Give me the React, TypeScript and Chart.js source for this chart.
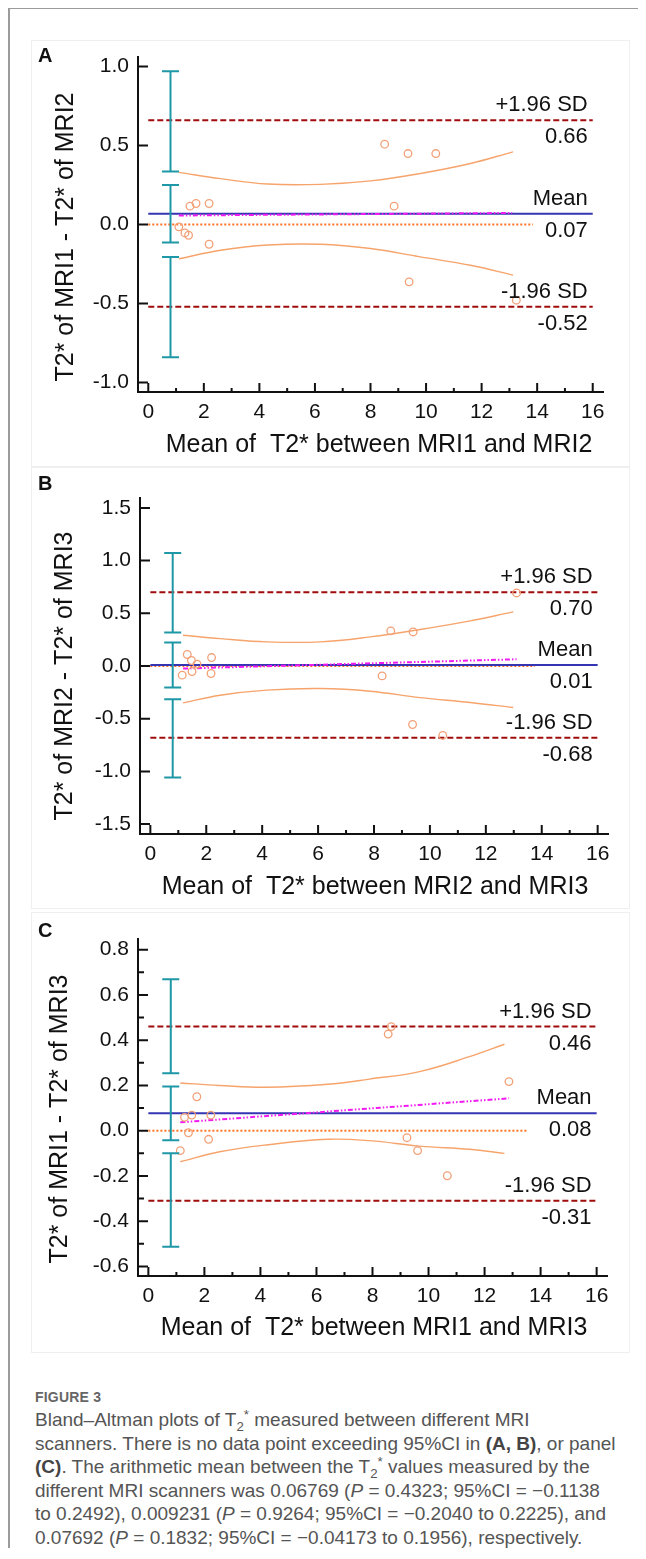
import React, { useEffect, useRef } from "react";
import { Chart, registerables } from "chart.js";

Chart.register(...registerables);

const FONT = "'Liberation Sans', Arial, Helvetica, sans-serif";

// ---------- shared axis data ----------
const X_TICKS = [0, 2, 4, 6, 8, 10, 12, 14, 16];
const X_MINOR_TICKS = [1, 3, 5, 7, 9, 11, 13, 15];
const LIMIT_LINE_X = [0, 16];
const CI_BAR_X = 0.8;
const LABEL_X = 15.82;
const LINE_LABELS = ["+1.96 SD", "Mean", "-1.96 SD"];

// ---------- Panel A : MRI1 vs MRI2 ----------
const A_Y_TICKS = [-1.0, -0.5, 0.0, 0.5, 1.0];
const A_Y_MINOR: number[] = [];
const A_POINT_X = [1.5, 1.72, 2.19, 1.1, 1.32, 1.45, 2.19, 8.51, 9.35, 10.35, 8.85, 9.39, 13.25];
const A_POINT_Y = [0.116, 0.133, 0.133, -0.015, -0.053, -0.068, -0.125, 0.508, 0.449, 0.449, 0.116, -0.363, -0.479];
const A_BAND_X = [1.1, 2.6, 4.3, 6.2, 8.0, 9.8, 11.6, 13.13];
const A_BAND_UPPER = [0.33, 0.29, 0.256, 0.254, 0.276, 0.323, 0.386, 0.46];
const A_BAND_LOWER = [-0.217, -0.163, -0.13, -0.125, -0.152, -0.205, -0.258, -0.32];
const A_TREND_X = [1.1, 13.1];
const A_TREND_Y = [0.057, 0.073];
const A_ZERO_X = [0, 13.85];
const A_LIMITS = [0.66, 0.0677, -0.52];
const A_LIMIT_TEXT = ["0.66", "0.07", "-0.52"];
const A_CI_LOW = [0.335, -0.1138, -0.84];
const A_CI_HIGH = [0.97, 0.2492, -0.205];

// ---------- Panel B : MRI2 vs MRI3 ----------
const B_Y_TICKS = [-1.5, -1.0, -0.5, 0.0, 0.5, 1.0, 1.5];
const B_Y_MINOR: number[] = [];
const B_POINT_X = [1.32, 1.47, 1.67, 1.14, 1.49, 2.19, 2.17, 13.1, 8.6, 9.4, 8.29, 9.38, 10.46];
const B_POINT_Y = [0.109, 0.052, 0.017, -0.087, -0.052, 0.08, -0.071, 0.693, 0.333, 0.323, -0.094, -0.555, -0.659];
const B_BAND_X = [1.17, 2.5, 4.17, 6.08, 7.86, 9.65, 11.44, 12.98];
const B_BAND_UPPER = [0.292, 0.26, 0.229, 0.229, 0.276, 0.346, 0.428, 0.513];
const B_BAND_LOWER = [-0.35, -0.277, -0.229, -0.214, -0.239, -0.3, -0.346, -0.394];
const B_TREND_X = [1.17, 13.1];
const B_TREND_Y = [-0.024, 0.064];
const B_ZERO_X = [0, 13.76];
const B_LIMITS = [0.7, 0.0092, -0.68];
const B_LIMIT_TEXT = ["0.70", "0.01", "-0.68"];
const B_CI_LOW = [0.317, -0.204, -1.057];
const B_CI_HIGH = [1.072, 0.2225, -0.315];

// ---------- Panel C : MRI1 vs MRI3 ----------
const C_Y_TICKS = [-0.6, -0.4, -0.2, 0.0, 0.2, 0.4, 0.6, 0.8];
const C_Y_MINOR = [-0.5, -0.3, -0.1, 0.1, 0.3, 0.5, 0.7];
const C_POINT_X = [1.73, 1.29, 1.55, 2.23, 1.43, 2.15, 1.14, 8.67, 8.56, 12.87, 9.23, 9.61, 10.67];
const C_POINT_Y = [0.15, 0.059, 0.069, 0.069, -0.009, -0.038, -0.088, 0.46, 0.427, 0.217, -0.031, -0.088, -0.199];
const C_BAND_X = [1.14, 2.54, 4.2, 6.4, 7.89, 9.68, 11.46, 12.71];
const C_BAND_UPPER = [0.211, 0.2, 0.192, 0.205, 0.228, 0.261, 0.327, 0.382];
const C_BAND_LOWER = [-0.137, -0.093, -0.063, -0.038, -0.044, -0.068, -0.082, -0.1];
const C_TREND_X = [1.14, 12.87];
const C_TREND_Y = [0.037, 0.143];
const C_ZERO_X = [0, 13.5];
const C_LIMITS = [0.46, 0.0769, -0.31];
const C_LIMIT_TEXT = ["0.46", "0.08", "-0.31"];
const C_CI_LOW = [0.254, -0.04173, -0.513];
const C_CI_HIGH = [0.669, 0.1956, -0.1];

type Spec = {
  letter: string;
  yTitle: string;
  xTitle: string;
  yTicks: number[];
  yMinor: number[];
  yMin: number;
  yMax: number;
  pointX: number[];
  pointY: number[];
  bandX: number[];
  bandUpper: number[];
  bandLower: number[];
  trendX: number[];
  trendY: number[];
  zeroX: number[];
  limits: number[];
  limitText: string[];
  ciLow: number[];
  ciHigh: number[];
  top: number;
  height: number;
  padTop: number;
  padRight: number;
  yAxisW: number;
  xAxisH: number;
  yTitlePos: [number, number];
  xTitlePos: [number, number];
  letterPos: [number, number];
};

const PANELS: Spec[] = [
  {
    letter: "A", yTitle: "T2* of MRI1 - T2* of MRI2", xTitle: "Mean of  T2* between MRI1 and MRI2",
    yTicks: A_Y_TICKS, yMinor: A_Y_MINOR, yMin: -1.06, yMax: 1.06,
    pointX: A_POINT_X, pointY: A_POINT_Y, bandX: A_BAND_X, bandUpper: A_BAND_UPPER, bandLower: A_BAND_LOWER,
    trendX: A_TREND_X, trendY: A_TREND_Y, zeroX: A_ZERO_X, limits: A_LIMITS, limitText: A_LIMIT_TEXT,
    ciLow: A_CI_LOW, ciHigh: A_CI_HIGH,
    top: 32, height: 430, padTop: 17, padRight: 27, yAxisW: 130, xAxisH: 78,
    yTitlePos: [58, 197], xTitlePos: [371, 405], letterPos: [30, 22],
  },
  {
    letter: "B", yTitle: "T2* of MRI2 - T2* of MRI3", xTitle: "Mean of  T2* between MRI2 and MRI3",
    yTicks: B_Y_TICKS, yMinor: B_Y_MINOR, yMin: -1.594, yMax: 1.594,
    pointX: B_POINT_X, pointY: B_POINT_Y, bandX: B_BAND_X, bandUpper: B_BAND_UPPER, bandLower: B_BAND_LOWER,
    trendX: B_TREND_X, trendY: B_TREND_Y, zeroX: B_ZERO_X, limits: B_LIMITS, limitText: B_LIMIT_TEXT,
    ciLow: B_CI_LOW, ciHigh: B_CI_HIGH,
    top: 462, height: 440, padTop: 28, padRight: 22, yAxisW: 132, xAxisH: 76,
    yTitlePos: [57, 206], xTitlePos: [367, 417], letterPos: [30, 20],
  },
  {
    letter: "C", yTitle: "T2* of MRI1 - T2* of MRI3", xTitle: "Mean of  T2* between MRI1 and MRI3",
    yTicks: C_Y_TICKS, yMinor: C_Y_MINOR, yMin: -0.642, yMax: 0.847,
    pointX: C_POINT_X, pointY: C_POINT_Y, bandX: C_BAND_X, bandUpper: C_BAND_UPPER, bandLower: C_BAND_LOWER,
    trendX: C_TREND_X, trendY: C_TREND_Y, zeroX: C_ZERO_X, limits: C_LIMITS, limitText: C_LIMIT_TEXT,
    ciLow: C_CI_LOW, ciHigh: C_CI_HIGH,
    top: 902, height: 440, padTop: 29, padRight: 23, yAxisW: 130, xAxisH: 74,
    yTitlePos: [52, 209], xTitlePos: [366, 418], letterPos: [30, 27],
  },
];

function Panel({ spec }: { spec: Spec }) {
  const ref = useRef<HTMLCanvasElement>(null);
  useEffect(() => {
    if (!ref.current) return;
    const p = spec;
    const pts = (xs: number[], ys: number[]) => xs.map((x, i) => ({ x, y: ys[i] }));
    const flat = (xs: number[], y: number) => xs.map((x) => ({ x, y }));
    const lineBase = { showLine: true, pointRadius: 0, pointHoverRadius: 0, fill: false };

    const overlay = {
      id: "overlay" + p.letter,
      afterDatasetsDraw(chart: any) {
        const { ctx, scales } = chart;
        const xs = scales.x;
        const ys = scales.y;
        ctx.save();
        ctx.strokeStyle = "#1e97a6";
        ctx.lineWidth = 2;
        const cx = xs.getPixelForValue(CI_BAR_X);
        for (let i = 0; i < p.ciLow.length; i++) {
          const y1 = ys.getPixelForValue(p.ciLow[i]);
          const y2 = ys.getPixelForValue(p.ciHigh[i]);
          ctx.beginPath();
          ctx.moveTo(cx, y1);
          ctx.lineTo(cx, y2);
          ctx.moveTo(cx - 8.5, y1);
          ctx.lineTo(cx + 8.5, y1);
          ctx.moveTo(cx - 8.5, y2);
          ctx.lineTo(cx + 8.5, y2);
          ctx.stroke();
        }
        ctx.restore();
      },
      afterDraw(chart: any) {
        const { ctx, chartArea: ca, scales } = chart;
        const xs = scales.x;
        const ys = scales.y;
        ctx.save();
        ctx.strokeStyle = "#111";
        ctx.lineWidth = 2;
        ctx.beginPath();
        X_TICKS.forEach((v) => {
          const px = xs.getPixelForValue(v);
          ctx.moveTo(px, ca.bottom);
          ctx.lineTo(px, ca.bottom - 9);
        });
        X_MINOR_TICKS.forEach((v) => {
          const px = xs.getPixelForValue(v);
          ctx.moveTo(px, ca.bottom);
          ctx.lineTo(px, ca.bottom - 4);
        });
        p.yTicks.forEach((v) => {
          const py = ys.getPixelForValue(v);
          ctx.moveTo(ca.left, py);
          ctx.lineTo(ca.left + 10, py);
        });
        p.yMinor.forEach((v) => {
          const py = ys.getPixelForValue(v);
          ctx.moveTo(ca.left, py);
          ctx.lineTo(ca.left + 6, py);
        });
        ctx.stroke();

        ctx.fillStyle = "#111";
        ctx.font = `22px ${FONT}`;
        ctx.textAlign = "right";
        ctx.textBaseline = "middle";
        const lx = xs.getPixelForValue(LABEL_X);
        for (let i = 0; i < 3; i++) {
          const py = ys.getPixelForValue(p.limits[i]);
          ctx.fillText(LINE_LABELS[i], lx, py - 15);
          ctx.fillText(p.limitText[i], lx, py + 17);
        }

        ctx.font = `25px ${FONT}`;
        ctx.textAlign = "center";
        ctx.fillText(p.xTitle, p.xTitlePos[0], p.xTitlePos[1]);
        ctx.save();
        ctx.translate(p.yTitlePos[0], p.yTitlePos[1]);
        ctx.rotate(-Math.PI / 2);
        ctx.fillText(p.yTitle, 0, 0);
        ctx.restore();

        ctx.font = `bold 20px ${FONT}`;
        ctx.textAlign = "left";
        ctx.textBaseline = "alphabetic";
        ctx.fillText(p.letter, p.letterPos[0], p.letterPos[1]);
        ctx.restore();
      },
    };

    const chart = new Chart(ref.current, {
      type: "scatter",
      data: {
        datasets: [
          {
            label: "Differences",
            data: pts(p.pointX, p.pointY),
            pointRadius: 3.8,
            pointHoverRadius: 3.8,
            pointBorderWidth: 1.3,
            pointBorderColor: "#f2a077",
            pointBackgroundColor: "rgba(0,0,0,0)",
            showLine: false,
            order: 0,
          },
          { ...lineBase, label: "Regression", data: pts(p.trendX, p.trendY), borderColor: "#f21af2", borderWidth: 2, borderDash: [5, 2, 1.5, 2, 1.5, 2], order: 1 },
          { ...lineBase, label: "Mean", data: flat(LIMIT_LINE_X, p.limits[1]), borderColor: "#3535b3", borderWidth: 2, order: 2 },
          { ...lineBase, label: "Zero", data: flat(p.zeroX, 0), borderColor: "#ff7326", borderWidth: 2, borderDash: [2, 2], order: 3 },
          { ...lineBase, label: "+1.96 SD", data: flat(LIMIT_LINE_X, p.limits[0]), borderColor: "#a00c0c", borderWidth: 2, borderDash: [6, 3], order: 4 },
          { ...lineBase, label: "-1.96 SD", data: flat(LIMIT_LINE_X, p.limits[2]), borderColor: "#a00c0c", borderWidth: 2, borderDash: [6, 3], order: 4 },
          { ...lineBase, label: "Upper CI", data: pts(p.bandX, p.bandUpper), borderColor: "#f6a46c", borderWidth: 1.4, tension: 0.4, order: 5 },
          { ...lineBase, label: "Lower CI", data: pts(p.bandX, p.bandLower), borderColor: "#f6a46c", borderWidth: 1.4, tension: 0.4, order: 5 },
        ],
      },
      options: {
        animation: false,
        responsive: false,
        devicePixelRatio: 1,
        layout: { padding: { left: 0, right: p.padRight, top: p.padTop, bottom: 0 } },
        plugins: { legend: { display: false }, tooltip: { enabled: false } },
        events: [],
        scales: {
          x: {
            type: "linear",
            min: -0.37,
            max: 16.37,
            afterBuildTicks: (s: any) => {
              s.ticks = X_TICKS.map((v) => ({ value: v }));
            },
            afterFit: (s: any) => {
              s.height = p.xAxisH;
              s.paddingLeft = 0;
              s.paddingRight = 0;
            },
            ticks: {
              autoSkip: false,
              maxRotation: 0,
              padding: 8,
              color: "#111",
              font: { family: FONT, size: 21 },
              callback: (v: any) => String(v),
            },
            grid: { display: false, drawTicks: false },
            border: { display: true, color: "#111", width: 2 },
          },
          y: {
            type: "linear",
            min: p.yMin,
            max: p.yMax,
            afterBuildTicks: (s: any) => {
              s.ticks = p.yTicks.map((v) => ({ value: v }));
            },
            afterFit: (s: any) => {
              s.width = p.yAxisW;
              s.paddingTop = 0;
              s.paddingBottom = 0;
            },
            ticks: {
              autoSkip: false,
              padding: 9,
              color: "#111",
              font: { family: FONT, size: 21 },
              callback: (v: any) => Number(v).toFixed(1),
            },
            grid: { display: false, drawTicks: false },
            border: { display: true, color: "#111", width: 2 },
          },
        },
      },
      plugins: [overlay],
    } as any);
    return () => chart.destroy();
  }, [spec]);

  return (
    <canvas
      ref={ref}
      width={622}
      height={spec.height}
      style={{ position: "absolute", left: 0, top: spec.top, width: 622, height: spec.height, display: "block" }}
    />
  );
}

const CAPTION_LINES: React.ReactNode[] = [
  <>Bland–Altman plots of T<sub>2</sub><sup>*</sup> measured between different MRI</>,
  <>scanners. There is no data point exceeding 95%CI in <b>(A, B)</b>, or panel</>,
  <><b>(C)</b>. The arithmetic mean between the T<sub>2</sub><sup>*</sup> values measured by the</>,
  <>different MRI scanners was 0.06769 (<i>P</i> = 0.4323; 95%CI = −0.1138</>,
  <>to 0.2492), 0.009231 (<i>P</i> = 0.9264; 95%CI = −0.2040 to 0.2225), and</>,
  <>0.07692 (<i>P</i> = 0.1832; 95%CI = −0.04173 to 0.1956), respectively.</>,
];

export default function App() {
  return (
    <div style={{ position: "relative", width: 630, height: 1540, fontFamily: FONT, background: "#fff" }}>
      <div
        style={{
          position: "absolute", left: 0, top: -1, width: 638, height: 1541, boxSizing: "border-box",
          borderLeft: "2px solid #9b9b9b", borderTop: "2px solid #9b9b9b",
        }}
      />
      <div style={{ position: "absolute", left: 23, top: 32, width: 599, height: 427, border: "1px solid #efefef", boxSizing: "border-box" }} />
      <div style={{ position: "absolute", left: 23, top: 459, width: 599, height: 442, border: "1px solid #efefef", boxSizing: "border-box" }} />
      <div style={{ position: "absolute", left: 23, top: 904, width: 599, height: 441, border: "1px solid #efefef", boxSizing: "border-box" }} />
      {PANELS.map((s) => (
        <Panel key={s.letter} spec={s} />
      ))}
      <div style={{ position: "absolute", left: 27, top: 1381, fontSize: 14, lineHeight: "16px", color: "#666", fontWeight: 600, letterSpacing: 0.2 }}>
        FIGURE 3
      </div>
      <div
        style={{
          position: "absolute", left: 27, top: 1400, fontSize: 19, lineHeight: "23.6px", color: "#555",
          whiteSpace: "nowrap",
        }}
      >
        {CAPTION_LINES.map((l, i) => (
          <div key={i}>{l}</div>
        ))}
      </div>
      <style>{`sub, sup { font-size: 0.7em; line-height: 0; } b { color: #444; }`}</style>
    </div>
  );
}
